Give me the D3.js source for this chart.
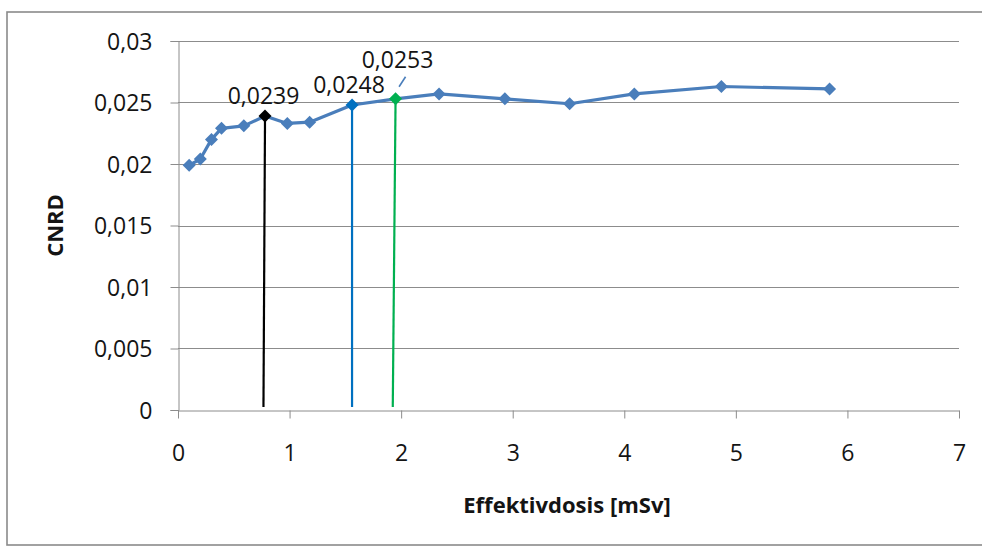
<!DOCTYPE html>
<html>
<head>
<meta charset="utf-8">
<script src="https://cdn.jsdelivr.net/npm/d3@7"></script>
<style>
  html, body { margin: 0; padding: 0; background: #fff; }
  svg { display: block; }
  text { font-family: "Open Sans", "DejaVu Sans", sans-serif; fill: #141414; }
</style>
</head>
<body>
<script>
// Effective dose [mSv] against CNRD
const dose = [0.10, 0.20, 0.30, 0.39, 0.59, 0.78, 0.98, 1.18, 1.56, 1.95, 2.34, 2.93, 3.51, 4.09, 4.87, 5.84];
const cnrd = [0.0199, 0.0204, 0.0220, 0.0229, 0.0231, 0.0239, 0.0233, 0.0234, 0.0248, 0.0253, 0.0257, 0.0253, 0.0249, 0.0257, 0.0263, 0.0261];

// Highlighted measurements with a drop line to the dose axis
const highlightIndex = [5, 8, 9];
const highlightColor = ["#000000", "#0070c0", "#00b050"];
const dropFootDose = [0.766, 1.56, 1.925];

const xTicks = [0, 1, 2, 3, 4, 5, 6, 7];
const yTicks = [0, 0.005, 0.01, 0.015, 0.02, 0.025, 0.03];
const xTitle = "Effektivdosis [mSv]";
const yTitle = "CNRD";

const W = 982, H = 547;
const comma = v => String(v).replace(".", ",");

const svg = d3.select("body").append("svg").attr("width", W).attr("height", H);

// chart frame
svg.append("rect")
  .attr("x", 7).attr("y", 12).attr("width", W + 10).attr("height", 533)
  .attr("fill", "none").attr("stroke", "#8a8a8a").attr("stroke-width", 1.6);

const x = d3.scaleLinear().domain([0, 7]).range([178, 959]);
const y = d3.scaleLinear().domain([0, 0.03]).range([410, 41]);

// horizontal gridlines
svg.append("g").selectAll("line").data(yTicks.filter(t => t > 0)).join("line")
  .attr("x1", x(0)).attr("x2", x(7))
  .attr("y1", d => Math.round(y(d)) + 0.5).attr("y2", d => Math.round(y(d)) + 0.5)
  .attr("stroke", "#8c8c8c").attr("stroke-width", 1);

// y axis
const yAxis = svg.append("g")
  .attr("transform", `translate(${x(0) + 0.5},0)`)
  .call(d3.axisLeft(y).tickValues(yTicks).tickFormat(comma).tickSize(8).tickPadding(18));
yAxis.select(".domain").attr("stroke", "#8c8c8c");
yAxis.selectAll(".tick line").attr("stroke", "#8c8c8c");
yAxis.selectAll(".tick text")
  .attr("font-size", 23).attr("font-family", "Open Sans").attr("fill", "#141414").attr("dy", "0.36em");

// x axis
const xAxis = svg.append("g")
  .attr("transform", `translate(0,${y(0) + 0.5})`)
  .call(d3.axisBottom(x).tickValues(xTicks).tickFormat(d3.format("d")).tickSize(8).tickSizeOuter(0).tickPadding(28));
xAxis.select(".domain").attr("stroke", "#8c8c8c");
xAxis.selectAll(".tick line").attr("stroke", "#8c8c8c");
xAxis.selectAll(".tick text")
  .attr("font-size", 23).attr("font-family", "Open Sans").attr("fill", "#141414").attr("dy", "0.36em")
  .attr("y", 43 - 0.5);

// axis titles
svg.append("text")
  .attr("x", 567).attr("y", 513)
  .attr("text-anchor", "middle").attr("font-size", 22).attr("font-weight", "bold")
  .text(xTitle);
svg.append("text")
  .attr("transform", `translate(63,${(y(0) + y(0.03)) / 2}) rotate(-90)`)
  .attr("text-anchor", "middle").attr("font-size", 22).attr("font-weight", "bold")
  .text(yTitle);

// drop lines from the highlighted points
svg.append("g").selectAll("line").data(highlightIndex).join("line")
  .attr("x1", d => x(dose[d])).attr("y1", d => y(cnrd[d]))
  .attr("x2", (d, i) => x(dropFootDose[i])).attr("y2", y(0) - 3)
  .attr("stroke", (d, i) => highlightColor[i]).attr("stroke-width", 2.2);

// series line
const pts = dose.map((d, i) => [x(d), y(cnrd[i])]);
svg.append("path")
  .attr("d", d3.line()(pts))
  .attr("fill", "none").attr("stroke", "#4a7ebb").attr("stroke-width", 3.2)
  .attr("stroke-linejoin", "round");

// diamond markers
const diamond = "M0,-6.5L6.5,0L0,6.5L-6.5,0Z";
svg.append("g").selectAll("path").data(pts).join("path")
  .attr("d", diamond)
  .attr("transform", d => `translate(${d[0]},${d[1]})`)
  .attr("fill", (d, i) => {
    const k = highlightIndex.indexOf(i);
    return k >= 0 ? highlightColor[k] : "#4a7ebb";
  });

// value labels on the highlighted points
const labelShift = [[-1.5, -12], [-3, -12], [2, -31]];
svg.append("g").selectAll("text").data(highlightIndex).join("text")
  .attr("x", (d, i) => x(dose[d]) + labelShift[i][0])
  .attr("y", (d, i) => y(cnrd[d]) + labelShift[i][1])
  .attr("text-anchor", "middle").attr("font-size", 23)
  .text(d => comma(cnrd[d]));

// leader line for the raised label
const g = highlightIndex[2];
svg.append("line")
  .attr("x1", x(dose[g]) + 10).attr("y1", y(cnrd[g]) - 22)
  .attr("x2", x(dose[g]) + 3.5).attr("y2", y(cnrd[g]) - 12)
  .attr("stroke", "#4a7ebb").attr("stroke-width", 1.6);
</script>
</body>
</html>
